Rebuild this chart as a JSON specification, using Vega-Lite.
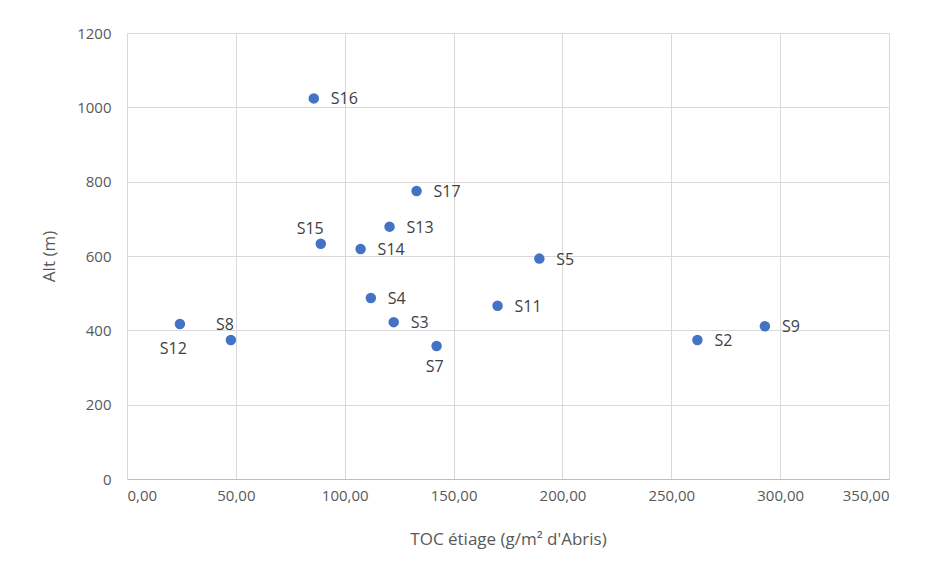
{
  "$schema": "https://vega.github.io/schema/vega-lite/v6.json",
  "width": 762,
  "height": 446,
  "autosize": {"type": "none"},
  "padding": {"left": 127, "top": 33, "right": 41, "bottom": 94},
  "background": "white",
  "config": {
    "view": {"stroke": null},
    "font": "Open Sans",
    "axis": {
      "gridColor": "#d9d9d9",
      "gridWidth": 1,
      "labelColor": "#595959",
      "titleColor": "#595959",
      "labelFont": "Open Sans",
      "titleFont": "Open Sans",
      "labelFontSize": 15,
      "titleFontSize": 17,
      "titleFontWeight": "normal",
      "ticks": false
    }
  },
  "data": {
    "values": [
      {"site": "S16", "toc": 85.8, "alt": 1024},
      {"site": "S17", "toc": 133, "alt": 775},
      {"site": "S13", "toc": 120.6, "alt": 679},
      {"site": "S15", "toc": 89, "alt": 633},
      {"site": "S14", "toc": 107.3, "alt": 619},
      {"site": "S5", "toc": 189.4, "alt": 593},
      {"site": "S4", "toc": 112, "alt": 487},
      {"site": "S11", "toc": 170.2, "alt": 466},
      {"site": "S3", "toc": 122.5, "alt": 422},
      {"site": "S12", "toc": 24.3, "alt": 417},
      {"site": "S9", "toc": 293, "alt": 411},
      {"site": "S8", "toc": 47.7, "alt": 374},
      {"site": "S2", "toc": 262, "alt": 374},
      {"site": "S7", "toc": 142.2, "alt": 358}
    ]
  },
  "encoding": {
    "x": {
      "field": "toc", "type": "quantitative",
      "scale": {"domain": [0, 350], "nice": false},
      "axis": {
        "values": [0, 50, 100, 150, 200, 250, 300, 350],
        "labelExpr": "replace(format(datum.value, '.2f'), '.', ',')",
        "title": "TOC étiage (g/m² d'Abris)",
        "domain": true, "domainColor": "#bfbfbf",
        "labelPadding": 9, "titlePadding": 28
      }
    },
    "y": {
      "field": "alt", "type": "quantitative",
      "scale": {"domain": [0, 1200], "nice": false},
      "axis": {
        "values": [0, 200, 400, 600, 800, 1000, 1200],
        "format": "d",
        "title": "Alt (m)",
        "domain": false,
        "labelPadding": 16, "titlePadding": 18
      }
    }
  },
  "layer": [
    {"mark": {"type": "point", "filled": true, "size": 110, "color": "#4472C4", "opacity": 1}},
    {
      "transform": [{"filter": {"field": "site", "oneOf": ["S16", "S17", "S13", "S14", "S5", "S4", "S11", "S3", "S9", "S2"]}}],
      "mark": {"type": "text", "align": "left", "baseline": "middle", "dx": 17, "dy": 1, "fontSize": 16, "color": "#404040", "font": "Open Sans"},
      "encoding": {"text": {"field": "site"}}
    },
    {
      "transform": [{"filter": {"field": "site", "oneOf": ["S15", "S8"]}}],
      "mark": {"type": "text", "align": "right", "baseline": "middle", "dx": 3, "dy": -15, "fontSize": 16, "color": "#404040", "font": "Open Sans"},
      "encoding": {"text": {"field": "site"}}
    },
    {
      "transform": [{"filter": {"field": "site", "oneOf": ["S12"]}}],
      "mark": {"type": "text", "align": "right", "baseline": "middle", "dx": 7, "dy": 25, "fontSize": 16, "color": "#404040", "font": "Open Sans"},
      "encoding": {"text": {"field": "site"}}
    },
    {
      "transform": [{"filter": {"field": "site", "oneOf": ["S7"]}}],
      "mark": {"type": "text", "align": "center", "baseline": "middle", "dx": -2, "dy": 21, "fontSize": 16, "color": "#404040", "font": "Open Sans"},
      "encoding": {"text": {"field": "site"}}
    }
  ]
}
